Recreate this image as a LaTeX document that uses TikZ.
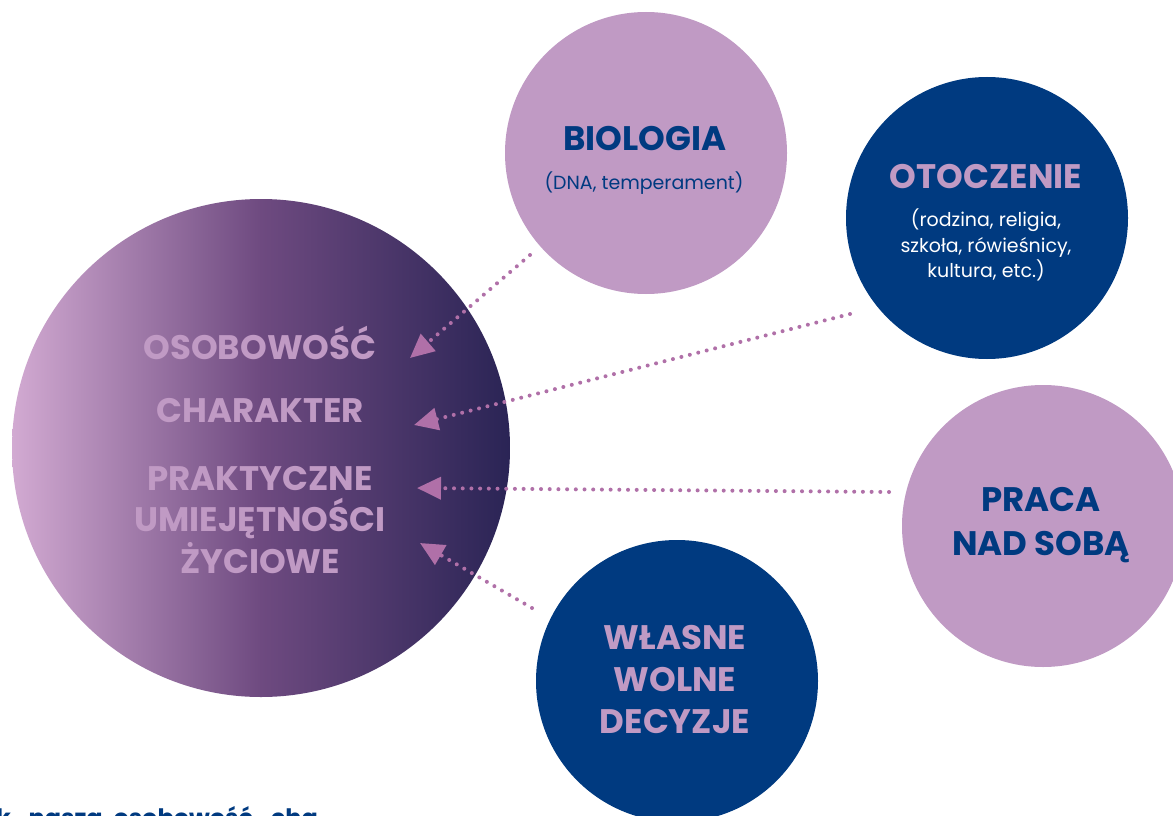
\documentclass[tikz,border=0pt]{standalone}
\usepackage{fontspec}
\setmainfont{Poppins}
\newfontfamily\smallfont{Poppins}
\usetikzlibrary{arrows.meta}
\definecolor{lilac}{HTML}{C09AC4}
\definecolor{navy}{HTML}{003A80}
\definecolor{dotc}{HTML}{B070A8}
\definecolor{gradL}{HTML}{D2AAD2}
\definecolor{gradM}{HTML}{6E4A80}
\definecolor{gradR}{HTML}{2A2455}
\tikzset{
  bubble/.style={circle, minimum size=282pt, inner sep=0pt},
  headtxt/.style={font=\bfseries\fontsize{34}{42}\selectfont, align=center, inner sep=0pt},
  subtxt/.style={font=\smallfont\fontsize{19}{25.5}\selectfont, align=center, inner sep=0pt},
  dotarrow/.style={draw=dotc, line width=4pt, line cap=round, dash pattern=on 0pt off 8.7pt,
    -{Triangle[length=24pt,width=22pt,fill=dotc]}}
}
\begin{document}
\begin{tikzpicture}[x=1pt,y=-1pt]
\useasboundingbox (0,0) rectangle (1173,816);
\clip (0,0) rectangle (1173,816);
\fill[white] (0,0) rectangle (1173,816);
% main circle
\node[circle, minimum size=498pt, inner sep=0pt, left color=gradL, right color=gradR, middle color=gradM] (main) at (261,448) {};
% satellites
\node[bubble, fill=lilac] (bio) at (646,153) {};
\node[bubble, fill=navy] (oto) at (987,218) {};
\node[bubble, fill=lilac] (praca) at (1043,526) {};
\node[bubble, fill=navy] (wlasne) at (677,681) {};
% texts in main
\node[headtxt, text=lilac] (t1) at (260,343) {OSOBOWOŚĆ};
\node[headtxt, text=lilac] (t2) at (260,411) {CHARAKTER};
\node[headtxt, text=lilac, font=\bfseries\fontsize{34}{41.5}\selectfont] (t3) at (260,520) {PRAKTYCZNE\\UMIEJĘTNOŚCI\\ŻYCIOWE};
% biology
\node[headtxt, text=navy] (bioT) at (645,139) {BIOLOGIA};
\node[subtxt, text=navy] (bioS) at (644,183) {(DNA, temperament)};
% otoczenie
\node[headtxt, text=lilac] (otoT) at (986,177) {OTOCZENIE};
\node[subtxt, text=white] (otoS) at (986,245) {(rodzina, religia,\\szkoła, rówieśnicy,\\kultura, etc.)};
% praca
\node[headtxt, text=navy, font=\bfseries\fontsize{34}{44}\selectfont] (pracaT) at (1041,525) {PRACA\\NAD SOBĄ};
% wlasne
\node[headtxt, text=lilac, font=\bfseries\fontsize{34}{42}\selectfont] (wlT) at (675,680) {WŁASNE\\WOLNE\\DECYZJE};
% bottom cut text
\node[anchor=base west, inner sep=0pt, text=navy, font=\bfseries\fontsize{24}{28}\selectfont] (bottom) at (-4,826) {k,\hspace{0.45em}nasza\hspace{0.45em}osobowość,\hspace{0.45em}cha};
% arrow coordinates
\coordinate (a1s) at (530,255);
\coordinate (a1e) at (410,358);
\coordinate (a2s) at (850,314);
\coordinate (a2e) at (414,425);
\coordinate (a3s) at (889,492);
\coordinate (a3e) at (417,488);
\coordinate (a4s) at (532,608);
\coordinate (a4e) at (420,543);
\draw[dotarrow] (a1s) -- (a1e);
\draw[dotarrow] (a2s) -- (a2e);
\draw[dotarrow] (a3s) -- (a3e);
\draw[dotarrow] (a4s) -- (a4e);
\end{tikzpicture}
\end{document}
